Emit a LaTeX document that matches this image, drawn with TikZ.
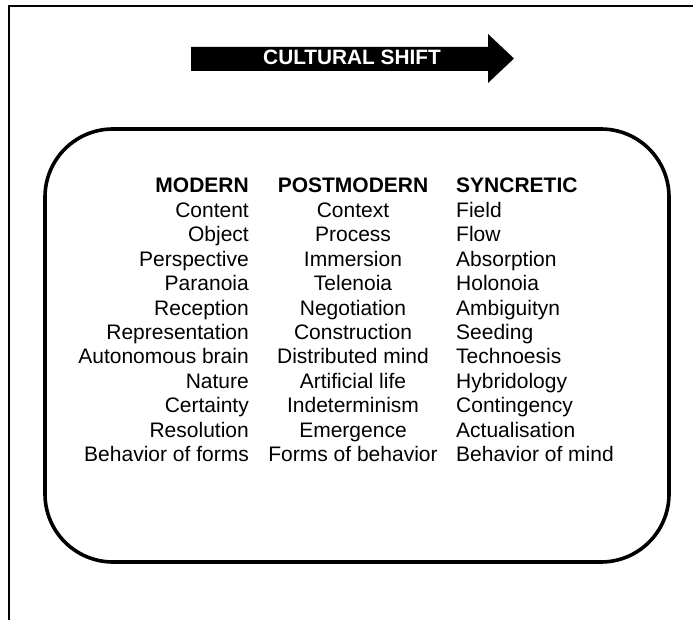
\documentclass[tikz,border=0pt]{standalone}
\usepackage{fontspec}
\setmainfont{Liberation Sans}
\begin{document}
\begin{tikzpicture}[x=1pt,y=-1pt,
  cell/.style={inner sep=0pt,font=\fontsize{21}{25}\selectfont},
  head/.style={cell,font=\fontsize{21}{25}\selectfont\bfseries},
  frameline/.style={line width=2pt},
  boxline/.style={line width=3.6pt,rounded corners=68pt}]
\useasboundingbox (0,0) rectangle (693,620);
% frame
\draw[frameline] (9,620) -- (9,6) -- (693,6);
% arrow
\fill (191,47) -- (488,47) -- (488,34) -- (514,58.5) -- (488,83) -- (488,71) -- (191,71) -- cycle;
\node[inner sep=0pt,text=white,font=\fontsize{20.8}{24}\selectfont\bfseries,anchor=base] (title) at (352,65) {CULTURAL SHIFT};
% rounded box
\draw[boxline] (45,129) rectangle (669,562);
% headers
\node[head,anchor=base east] (hm) at (249,193) {MODERN};
\node[head,anchor=base] (hp) at (353,193) {POSTMODERN};
\node[head,anchor=base west] (hs) at (456,193) {SYNCRETIC};
% rows
\foreach \a/\b/\c [count=\i] in {
  Content/Context/Field,
  Object/Process/Flow,
  Perspective/Immersion/Absorption,
  Paranoia/Telenoia/Holonoia,
  Reception/Negotiation/Ambiguityn,
  Representation/Construction/Seeding,
  Autonomous brain/Distributed mind/Technoesis,
  Nature/Artificial life/Hybridology,
  Certainty/Indeterminism/Contingency,
  Resolution/Emergence/Actualisation,
  Behavior of forms/Forms of behavior/Behavior of mind}{
  \pgfmathsetmacro{\yy}{217.5+24.4*(\i-1)}
  \node[cell,anchor=base east] (m\i) at (249,\yy) {\a};
  \node[cell,anchor=base] (p\i) at (353,\yy) {\b};
  \node[cell,anchor=base west] (s\i) at (456,\yy) {\c};
}
\end{tikzpicture}
\end{document}
